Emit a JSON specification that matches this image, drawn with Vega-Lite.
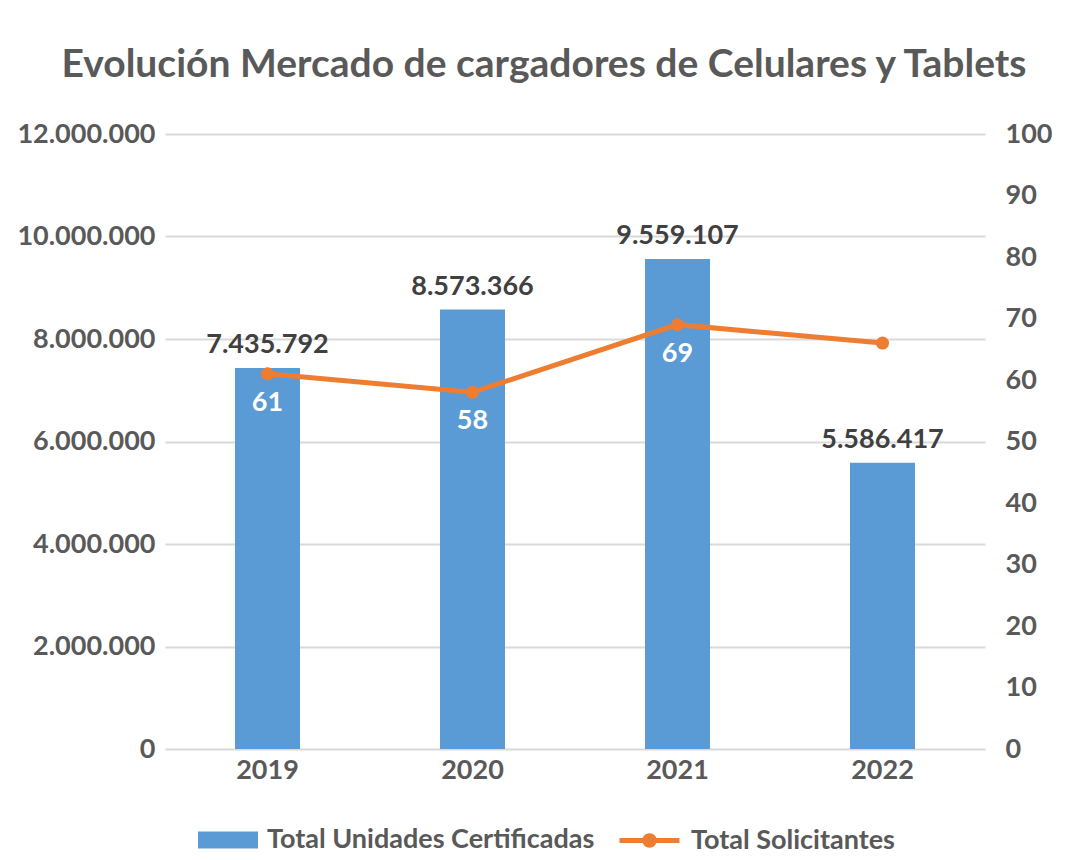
{
  "$schema": "https://vega.github.io/schema/vega-lite/v6.json",
  "width": 820,
  "height": 615,
  "autosize": {"type": "none"},
  "padding": {"left": 165, "top": 134, "right": 98, "bottom": 111},
  "background": "white",
  "config": {
    "font": "Lato",
    "view": {"stroke": null},
    "locale": {"number": {"decimal": ",", "thousands": ".", "grouping": [3], "currency": ["", ""]}}
  },
  "title": {
    "text": "Evolución Mercado de cargadores de Celulares y Tablets",
    "font": "Lato",
    "fontSize": 39,
    "fontWeight": "bold",
    "color": "#595959",
    "anchor": "middle",
    "frame": "group",
    "dx": -31,
    "offset": 35
  },
  "data": {
    "values": [
      {"year": "2019", "unidades": 7435792, "solicitantes": 61},
      {"year": "2020", "unidades": 8573366, "solicitantes": 58},
      {"year": "2021", "unidades": 9559107, "solicitantes": 69},
      {"year": "2022", "unidades": 5586417, "solicitantes": 66}
    ]
  },
  "encoding": {
    "x": {
      "field": "year",
      "type": "nominal",
      "scale": {"paddingInner": 0.683, "paddingOuter": 0.3415},
      "axis": {
        "title": null,
        "labelAngle": 0,
        "labelFont": "Lato",
        "labelFontSize": 27,
        "labelFontWeight": "bold",
        "labelColor": "#595959",
        "labelPadding": 8,
        "ticks": false,
        "domain": false
      }
    }
  },
  "layer": [
    {
      "encoding": {
        "y": {
          "field": "unidades",
          "type": "quantitative",
          "scale": {"domain": [0, 12000000], "nice": false},
          "axis": {
            "title": null,
            "values": [0, 2000000, 4000000, 6000000, 8000000, 10000000, 12000000],
            "format": ",d",
            "labelFont": "Lato",
            "labelFontSize": 27,
            "labelFontWeight": "bold",
            "labelColor": "#595959",
            "labelPadding": 10,
            "ticks": false,
            "domain": false,
            "grid": true,
            "gridColor": "#d9d9d9",
            "gridWidth": 2
          }
        }
      },
      "layer": [
        {
          "mark": {"type": "bar"},
          "encoding": {
            "fill": {
              "datum": "Total Unidades Certificadas",
              "type": "nominal",
              "scale": {"domain": ["Total Unidades Certificadas"], "range": ["#5B9BD5"]},
              "legend": {
                "title": null,
                "orient": "none",
                "legendX": 33,
                "legendY": 676,
                "symbolType": "M-1,-0.283H1V0.283H-1Z",
                "symbolSize": 3600,
                "symbolStrokeWidth": 0,
                "symbolOpacity": 1,
                "labelFont": "Lato",
                "labelFontSize": 27,
                "labelFontWeight": "bold",
                "labelColor": "#595959",
                "labelOffset": 9,
                "labelLimit": 0,
                "padding": 0
              }
            }
          }
        },
        {
          "mark": {"type": "text", "font": "Lato", "fontSize": 27, "fontWeight": "bold", "color": "#404040", "baseline": "alphabetic", "dy": -15},
          "encoding": {
            "text": {"field": "unidades", "type": "quantitative", "format": ",d"}
          }
        }
      ]
    },
    {
      "encoding": {
        "y": {
          "field": "solicitantes",
          "type": "quantitative",
          "scale": {"domain": [0, 100], "nice": false},
          "axis": {
            "title": null,
            "orient": "right",
            "values": [0, 10, 20, 30, 40, 50, 60, 70, 80, 90, 100],
            "labelFont": "Lato",
            "labelFontSize": 27,
            "labelFontWeight": "bold",
            "labelColor": "#595959",
            "labelPadding": 20,
            "ticks": false,
            "domain": false,
            "grid": false
          }
        }
      },
      "layer": [
        {
          "mark": {"type": "line", "strokeWidth": 5},
          "encoding": {
            "stroke": {
              "datum": "Total Solicitantes",
              "type": "nominal",
              "scale": {"domain": ["Total Solicitantes"], "range": ["#ED7D31"]},
              "legend": {
                "title": null,
                "orient": "none",
                "legendX": 452,
                "legendY": 674,
                "symbolType": "M-1,0H1M-0.16,0A0.16,0.16 0 1,0 0.16,0A0.16,0.16 0 1,0 -0.16,0M-0.05,0A0.05,0.05 0 1,0 0.05,0A0.05,0.05 0 1,0 -0.05,0",
                "symbolSize": 3600,
                "symbolStrokeWidth": 5,
                "symbolFillColor": "#ED7D31",
                "symbolOpacity": 1,
                "labelFont": "Lato",
                "labelFontSize": 27,
                "labelFontWeight": "bold",
                "labelColor": "#595959",
                "labelOffset": 9,
                "labelLimit": 0,
                "padding": 0
              }
            }
          }
        },
        {
          "mark": {"type": "point", "filled": true, "size": 170, "color": "#ED7D31", "opacity": 1},
          "encoding": {}
        },
        {
          "transform": [{"filter": "datum.year != '2022'"}],
          "mark": {"type": "text", "font": "Lato", "fontSize": 27, "fontWeight": "bold", "color": "white", "baseline": "middle", "dy": 29},
          "encoding": {
            "text": {"field": "solicitantes", "type": "quantitative"}
          }
        }
      ]
    }
  ],
  "resolve": {"scale": {"y": "independent"}}
}
